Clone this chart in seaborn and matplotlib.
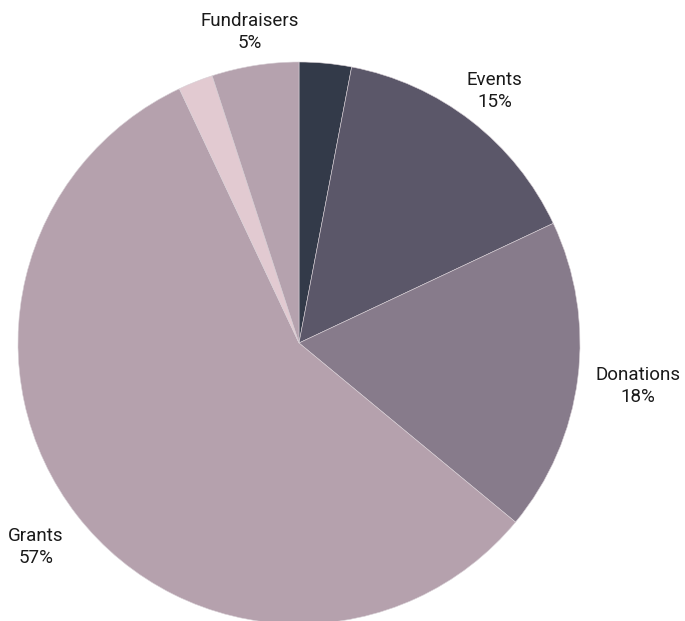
import matplotlib.pyplot as plt
import seaborn as sns
import numpy as np

# slice data, clockwise from 12 o'clock
categories = ['Other', 'Events', 'Donations', 'Grants', 'Misc', 'Fundraisers']
shares = [3, 15, 18, 57, 2, 5]
show_label = [False, True, True, True, False, True]
colors = ['#333a49', '#5b5769', '#877b8b', '#b5a1ad', '#e2cad1', '#b5a2ae']
label_dist = [1.15, 1.135, 1.215, 1.185, 1.15, 1.12]

sns.set_theme(style='white')
plt.rcParams['font.family'] = ['Roboto', 'DejaVu Sans']

W, H = 685, 621
fig = plt.figure(figsize=(W / 100, H / 100), dpi=100)
cx, cy, r = 299, H - 343, 281
ax = fig.add_axes([(cx - r) / W, (cy - r) / H, 2 * r / W, 2 * r / H])

wedges, _ = ax.pie(shares, colors=colors, startangle=90, counterclock=False,
                   radius=1.0, wedgeprops=dict(linewidth=0.4, edgecolor='#d8d0d6'))
ax.set_xlim(-1, 1)
ax.set_ylim(-1, 1)
ax.set_aspect('equal')
ax.axis('off')

for w, name, val, show, d in zip(wedges, categories, shares, show_label, label_dist):
    if not show:
        continue
    ang = np.deg2rad((w.theta1 + w.theta2) / 2)
    ax.text(d * np.cos(ang), d * np.sin(ang), f'{name}\n{val}%',
            ha='center', va='center', fontsize=13.5, color='#1a1a1a',
            linespacing=1.3, clip_on=False)

fig.savefig('out.png', dpi=100)
